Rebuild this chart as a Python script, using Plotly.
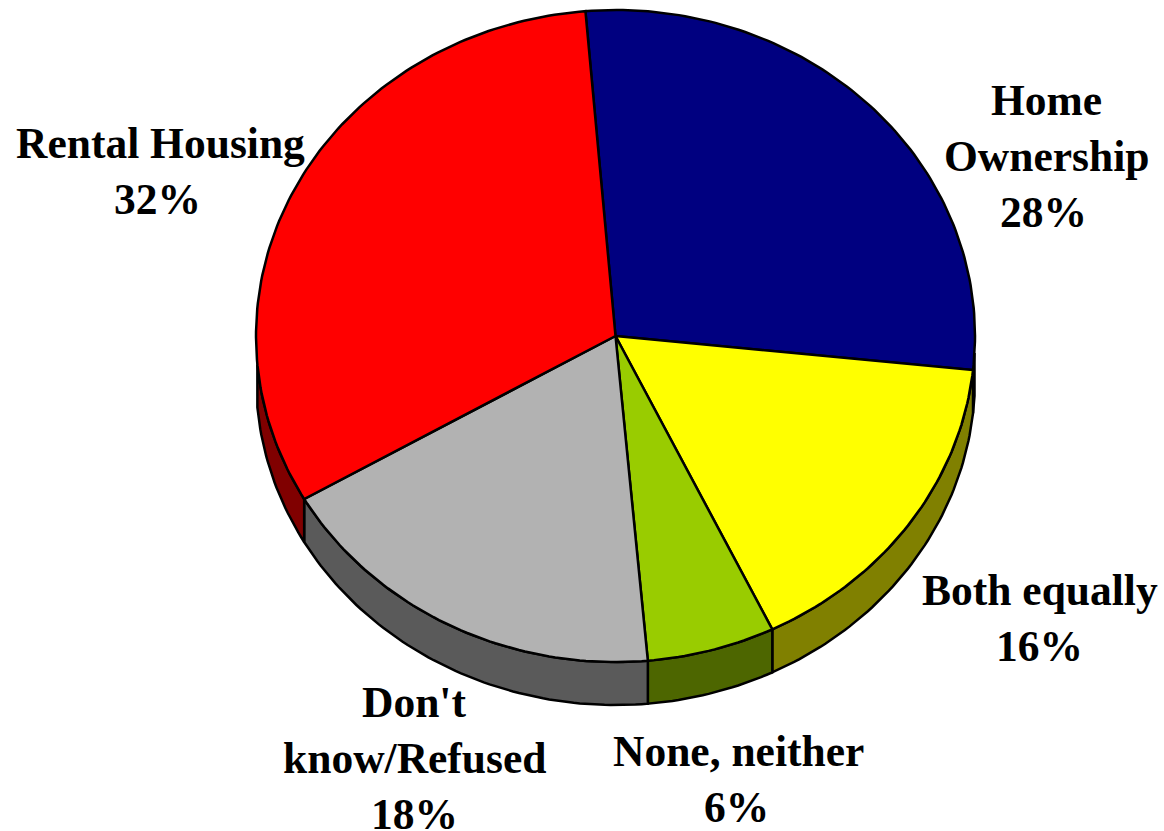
import numpy as np
import plotly.graph_objects as go

categories = ["Home Ownership", "Both equally", "None, neither", "Don't know/Refused", "Rental Housing"]
shares = [28, 16.15, 5.75, 18.1, 32]
top_colors = ["#000080", "#ffff00", "#99cc00", "#b2b2b2", "#ff0000"]
side_colors = ["#000040", "#808000", "#4d6600", "#5a5a5a", "#800000"]
label_lines = [["Home", "Ownership", "28%"], ["Both equally", "16%"], ["None, neither", "6%"],
               ["Don't", "know/Refused", "18%"], ["Rental Housing", "32%"]]
label_x = [[1046, 1046, 1043], [1040, 1039], [738, 736], [414, 414, 414], [160, 157]]
label_y = [[99.5, 155.5, 211.5], [589.5, 645.5], [750.5, 806.5], [701.5, 757.5, 813.5], [142.5, 198.5]]

CX, CY, RX, RY, DEPTH = 615.5, 336, 359.5, 326, 43
START = -4.8


def arc(a0, a1):
    t = np.radians(np.linspace(a0, a1, max(int(abs(a1 - a0)) + 2, 3)))
    return CX + RX * np.sin(t), CY - RY * np.cos(t)


fig = go.Figure()
edges = START + np.concatenate([[0], np.cumsum(shares)]) * 360 / sum(shares)
line = dict(color="black", width=2.5)

for i, cat in enumerate(categories):
    a0, a1 = max(edges[i], 93), min(edges[i + 1], 265)
    if a1 > a0:
        x, y = arc(a0, a1)
        fig.add_trace(go.Scatter(
            x=np.concatenate([x, x[::-1], x[:1]]),
            y=np.concatenate([y, y[::-1] + DEPTH, y[:1]]),
            mode="lines", fill="toself", fillcolor=side_colors[i], line=line,
            hoverinfo="skip", showlegend=False))

for i, cat in enumerate(categories):
    x, y = arc(edges[i], edges[i + 1])
    fig.add_trace(go.Scatter(
        x=np.concatenate([[CX], x, [CX]]),
        y=np.concatenate([[CY], y, [CY]]),
        mode="lines", fill="toself", fillcolor=top_colors[i], line=line,
        name=cat, hoverinfo="name", showlegend=False))

for lines, xs, ys in zip(label_lines, label_x, label_y):
    for t, x, y in zip(lines, xs, ys):
        fig.add_annotation(x=x, y=y, text=f"<b>{t}</b>", showarrow=False, xanchor="center", yanchor="middle",
                           font=dict(family="Liberation Serif", size=43.5, color="black"))

fig.update_xaxes(visible=False, range=[0, 1164], fixedrange=True)
fig.update_yaxes(visible=False, range=[831, 0], fixedrange=True)
fig.update_layout(width=1164, height=831, margin=dict(l=0, r=0, t=0, b=0),
                  plot_bgcolor="white", paper_bgcolor="white")
fig.write_html("out.html", config={"displayModeBar": False},
               post_script="document.body.style.margin='0';document.body.style.overflow='hidden';")
